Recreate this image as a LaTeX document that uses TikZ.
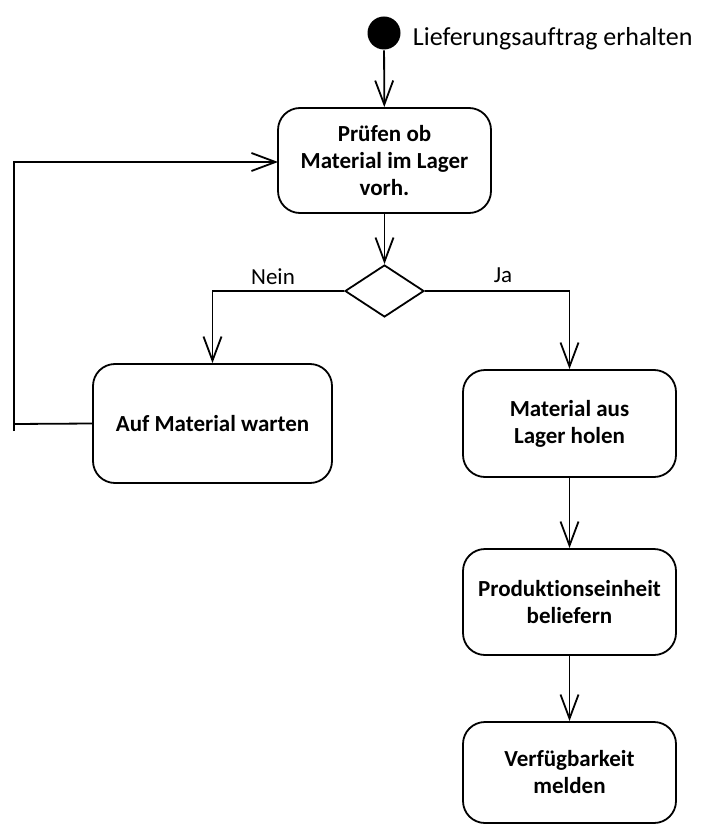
\documentclass[tikz,border=0pt]{standalone}
\usepackage{fontspec}
\setmainfont[Ligatures=NoCommon]{Carlito}
\usetikzlibrary{arrows.meta,shapes.geometric}
\begin{document}
\begin{tikzpicture}[x=1pt,y=-1pt,
  line width=1.8pt,
  act/.style={draw, rounded corners=22pt, minimum width=213pt, inner sep=0pt, align=center,
    font=\fontsize{23}{27}\selectfont\bfseries},
  flow/.style={-{Straight Barb[length=24pt,width=18pt,line width=1.8pt]}},
  lbl/.style={font=\fontsize{23}{27}\selectfont, inner sep=0pt}
]
\useasboundingbox (0,0) rectangle (703,826);
\node[circle, fill=black, minimum size=33pt, inner sep=0pt] (start) at (384,33) {};
\node[lbl, anchor=west, font=\fontsize{26}{30}\selectfont] (startlbl) at (412,39) {Lieferungsauftrag erhalten};
\node[act, minimum height=105pt] (pruef) at (384.5,160.5) {Prüfen ob\\Material im Lager\\vorh.};
\node[draw, diamond, aspect=1.52, minimum width=79pt, minimum height=52pt, inner sep=0pt] (dec) at (384.5,291) {};
\node[act, minimum width=239pt, minimum height=119pt] (warten) at (212.5,423.5) {Auf Material warten};
\node[act, minimum height=107pt] (holen) at (569.5,423.5) {Material aus\\Lager holen};
\node[act, minimum height=106pt] (liefern) at (569.5,602) {Produktionseinheit\\beliefern};
\node[act, minimum height=101pt] (melden) at (569.5,772.5) {Verfügbarkeit\\melden};
\node[lbl] (nein) at (273,277) {Nein};
\node[lbl] (ja) at (503,275) {Ja};
\coordinate (loopA) at (14,424);
\coordinate (loopB) at (14,431);
\coordinate (loopC) at (14,162);
\coordinate (loopD) at (278,162);
\draw[flow] (start) -- (pruef);
\draw[flow] (pruef) -- (dec.north);
\draw[flow] (dec.west) -| (warten.north);
\draw[flow] (dec.east) -| (holen.north);
\draw[flow] (holen) -- (liefern);
\draw[flow] (liefern) -- (melden);
\draw (warten.west) -- (loopA);
\draw[flow] (loopB) -- (loopC) -- (loopD);
\end{tikzpicture}
\end{document}
